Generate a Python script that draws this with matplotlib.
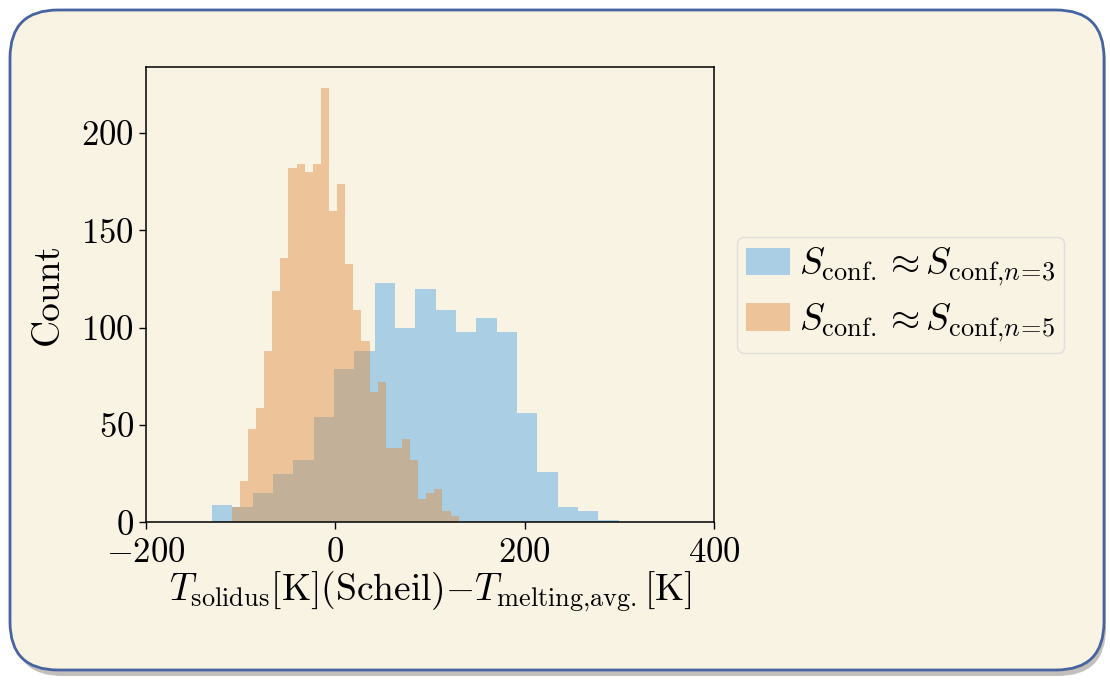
import numpy as np
import matplotlib
matplotlib.use("Agg")
import matplotlib.pyplot as plt
from matplotlib.patches import FancyBboxPatch

plt.rcParams['font.family'] = 'serif'
plt.rcParams['font.serif'] = ['cmr10']
plt.rcParams['mathtext.fontset'] = 'cm'
plt.rcParams['axes.formatter.use_mathtext'] = True

# S_conf ~ S_conf,n=3 : 20 bins
n3_range = (-130.3, 299.4)
n3_counts = [9, 8, 15, 25, 32, 54, 79, 88, 123, 100,
             120, 109, 98, 105, 98, 56, 26, 8, 6, 1]

# S_conf ~ S_conf,n=5 : 28 bins
n5_range = (-109.5, 130.3)
n5_counts = [8, 21, 48, 59, 88, 119, 136, 182, 184, 180,
             184, 223, 160, 174, 133, 109, 93, 67, 72, 38,
             38, 43, 32, 12, 15, 17, 6, 3]

label_n3 = r'$S_{\rm conf.} \approx S_{{\rm conf}{,}n\!=\!3}$'
label_n5 = r'$S_{\rm conf.} \approx S_{{\rm conf}{,}n\!=\!5}$'
xlabel = r'$T_{\rm solidus}$[K](Scheil)$-T_{{\rm melting}{,}{\rm avg.}}$[K]'

cream = '#f9f3e4'
col_n3 = '#aacee3'
col_n5 = '#e08c40'

W, H = 1110, 681
fig = plt.figure(figsize=(W / 100, H / 100), dpi=100)
fig.patch.set_facecolor('white')

# rounded slide-like frame behind everything
bg = fig.add_axes([0, 0, 1, 1], zorder=-1)
bg.set_xlim(0, W)
bg.set_ylim(H, 0)
bg.axis('off')
shadow = FancyBboxPatch((14, 15), 1092, 661, boxstyle="round,pad=0,rounding_size=48",
                        facecolor='#6b6358', edgecolor='none', alpha=0.4)
bg.add_patch(shadow)
frame = FancyBboxPatch((10, 10), 1094, 660, boxstyle="round,pad=0,rounding_size=48",
                       facecolor=cream, edgecolor='#4764a0', linewidth=2)
bg.add_patch(frame)

ax = fig.add_axes([146 / W, 1 - 522.3 / H, 568 / W, (522.3 - 66.7) / H])
ax.patch.set_alpha(0)

edges_n3 = np.linspace(n3_range[0], n3_range[1], len(n3_counts) + 1)
edges_n5 = np.linspace(n5_range[0], n5_range[1], len(n5_counts) + 1)
ax.hist(edges_n3[:-1], bins=edges_n3, weights=n3_counts, color=col_n3, label=label_n3)
ax.hist(edges_n5[:-1], bins=edges_n5, weights=n5_counts, color=col_n5, alpha=0.45, label=label_n5)

ax.set_xlim(-200, 400)
ax.set_xticks([-200, 0, 200, 400])
ax.set_yticks([0, 50, 100, 150, 200])
ax.tick_params(labelsize=25, length=5, width=1)
ax.tick_params(axis='x', pad=5.5)
for s in ax.spines.values():
    s.set_linewidth(1.1)
ax.set_xlabel(xlabel, fontsize=27, labelpad=1)
ax.set_ylabel('Count', fontsize=27, labelpad=12)

ax.legend(loc='center left', bbox_to_anchor=(737 / W, 1 - 295 / H),
          bbox_transform=fig.transFigure, borderaxespad=0, fontsize=27,
          facecolor=cream, edgecolor='0.85', framealpha=0.8,
          handlelength=1.15, handleheight=0.75, handletextpad=0.25,
          borderpad=0.25, labelspacing=0.35)

fig.savefig('out.png', dpi=100)
